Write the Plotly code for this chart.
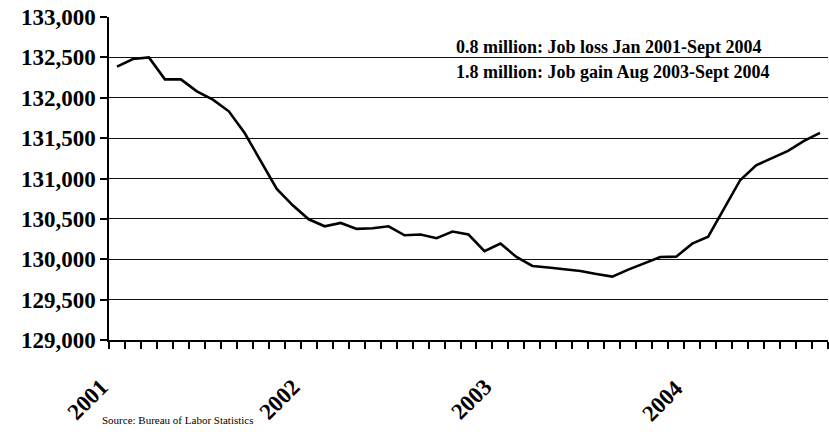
import plotly.graph_objects as go

# Nonfarm payroll employment (thousands), monthly Jan 2001 - Sept 2004
years = [2001, 2002, 2003, 2004]
months = [f"{y}-{m:02d}" for y in years for m in range(1, 13)][:45]
employment = [
    132385, 132480, 132500, 132228, 132228, 132079, 131977, 131832,
    131560, 131213, 130871, 130668,
    130495, 130408, 130450, 130376, 130384, 130408, 130297, 130306,
    130260, 130343, 130306, 130099,
    130195, 130028, 129917, 129897, 129872, 129855, 129818, 129785,
    129872, 129954, 130028, 130032,
    130193, 130280, 130627, 130979, 131163, 131254, 131341, 131465,
    131564,
]
y_ticks = [129000, 129500, 130000, 130500, 131000, 131500, 132000, 132500, 133000]

notes = [
    "0.8 million: Job loss Jan 2001-Sept 2004",
    "1.8 million: Job gain Aug 2003-Sept 2004",
]
source_note = "Source: Bureau of Labor Statistics"

serif = "Liberation Serif"

# month positions along the axis; January of each year carries the label
pos = list(range(len(months)))
year_pos = [i for i, m in enumerate(months) if m.endswith("-01")]
year_text = [months[i][:4] for i in year_pos]
boundaries = [i - 0.5 for i in range(len(months) + 1)]
x_range = [-0.5, len(months) - 0.5]

fig = go.Figure()
fig.add_trace(
    go.Scatter(
        x=pos,
        y=employment,
        mode="lines",
        line=dict(color="black", width=2.6),
        customdata=months,
        hovertemplate="%{customdata}: %{y:,}<extra></extra>",
    )
)

fig.update_layout(
    width=829,
    height=434,
    margin=dict(l=109, r=1, t=17, b=94),
    paper_bgcolor="white",
    plot_bgcolor="white",
    showlegend=False,
    font=dict(family=serif, color="black"),
    # month boundaries: tick marks only
    xaxis=dict(
        range=x_range,
        tickmode="array",
        tickvals=boundaries,
        ticktext=[""] * len(boundaries),
        ticks="outside",
        ticklen=7,
        tickwidth=1.5,
        tickcolor="black",
        showline=True,
        linecolor="black",
        linewidth=1.5,
        showgrid=False,
        zeroline=False,
    ),
    yaxis=dict(
        range=[129000, 133000],
        tickmode="array",
        tickvals=y_ticks,
        ticktext=[f"<b>{v:,}</b>" for v in y_ticks],
        ticks="outside",
        ticklen=7,
        tickwidth=1.5,
        tickcolor="black",
        tickfont=dict(family=serif, size=23, color="black"),
        showline=True,
        linecolor="black",
        linewidth=1.5,
        showgrid=True,
        gridcolor="#111111",
        gridwidth=1,
        zeroline=False,
    ),
)

# rotated year labels under each January
for xp, label in zip(year_pos, year_text):
    fig.add_annotation(
        text=f"<b>{label}</b>",
        xref="x",
        yref="paper",
        x=xp,
        y=-0.099,
        xanchor="right",
        yanchor="top",
        xshift=-1,
        textangle=-45,
        showarrow=False,
        font=dict(family=serif, size=23, color="black"),
    )

for text, ypos in zip(notes, [0.907, 0.83]):
    fig.add_annotation(
        text=f"<b>{text}</b>",
        xref="paper",
        yref="paper",
        x=0.48,
        y=ypos,
        xanchor="left",
        yanchor="middle",
        showarrow=False,
        font=dict(family=serif, size=18, color="black"),
    )

fig.add_annotation(
    text=source_note,
    xref="paper",
    yref="paper",
    x=(100 - 109) / 719,
    y=-0.248,
    xanchor="left",
    yanchor="middle",
    showarrow=False,
    font=dict(family=serif, size=11, color="black"),
)

fig.write_html("out.html")
